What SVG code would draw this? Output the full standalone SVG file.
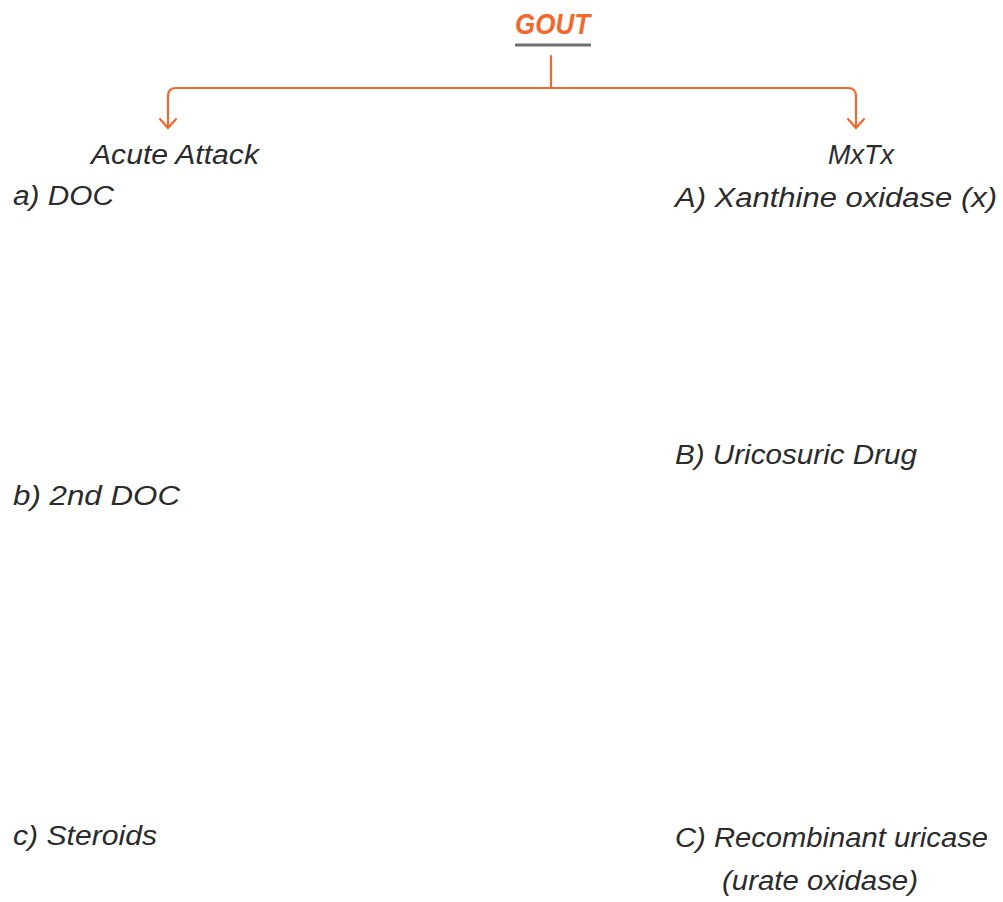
<svg xmlns="http://www.w3.org/2000/svg" width="1003" height="902" viewBox="0 0 1003 902">
<style>
.t{font-family:"Liberation Sans","DejaVu Sans",sans-serif;font-style:italic;font-size:27px;fill:#2b2b2b}
.title{font-family:"Liberation Sans","DejaVu Sans",sans-serif;font-style:italic;font-weight:bold;font-size:30px;fill:#f0682c}
.c{fill:none;stroke:#f0682c;stroke-width:2.2;stroke-linecap:round;stroke-linejoin:round}
</style>
<rect width="1003" height="902" fill="#ffffff"/>
<g id="title">
<text class="title" x="515" y="34" textLength="75" lengthAdjust="spacingAndGlyphs">GOUT</text>
<line x1="515" y1="45" x2="591" y2="45" stroke="#707070" stroke-width="3"/>
</g>
<g id="connectors">
<line class="c" x1="551" y1="56" x2="551" y2="88"/>
<path class="c" d="M551 88 H176 Q168 88 168 96 V128"/>
<path class="c" d="M160 119 L168 128 L176 119"/>
<path class="c" d="M551 88 H848 Q856 88 856 96 V128"/>
<path class="c" d="M848 119 L856 128 L864 119"/>
</g>
<g id="acute">
<text class="t" x="91" y="164" textLength="168" lengthAdjust="spacingAndGlyphs">Acute Attack</text>
</g>
<g id="mxtx">
<text class="t" x="828" y="164" textLength="66" lengthAdjust="spacingAndGlyphs">MxTx</text>
</g>
<g id="a-doc">
<text class="t" x="13" y="205" textLength="101" lengthAdjust="spacingAndGlyphs">a) DOC</text>
</g>
<g id="b-doc">
<text class="t" x="13" y="505" textLength="167" lengthAdjust="spacingAndGlyphs">b) 2nd DOC</text>
</g>
<g id="c-steroids">
<text class="t" x="13" y="845" textLength="144" lengthAdjust="spacingAndGlyphs">c) Steroids</text>
</g>
<g id="A-xo">
<text class="t" x="675" y="207" textLength="322" lengthAdjust="spacingAndGlyphs">A) Xanthine oxidase (x)</text>
</g>
<g id="B-uric">
<text class="t" x="675" y="464" textLength="242" lengthAdjust="spacingAndGlyphs">B) Uricosuric Drug</text>
</g>
<g id="C-recomb">
<text class="t" x="675" y="847" textLength="313" lengthAdjust="spacingAndGlyphs">C) Recombinant uricase</text>
<text class="t" x="722" y="890" textLength="196" lengthAdjust="spacingAndGlyphs">(urate oxidase)</text>
</g>
</svg>
